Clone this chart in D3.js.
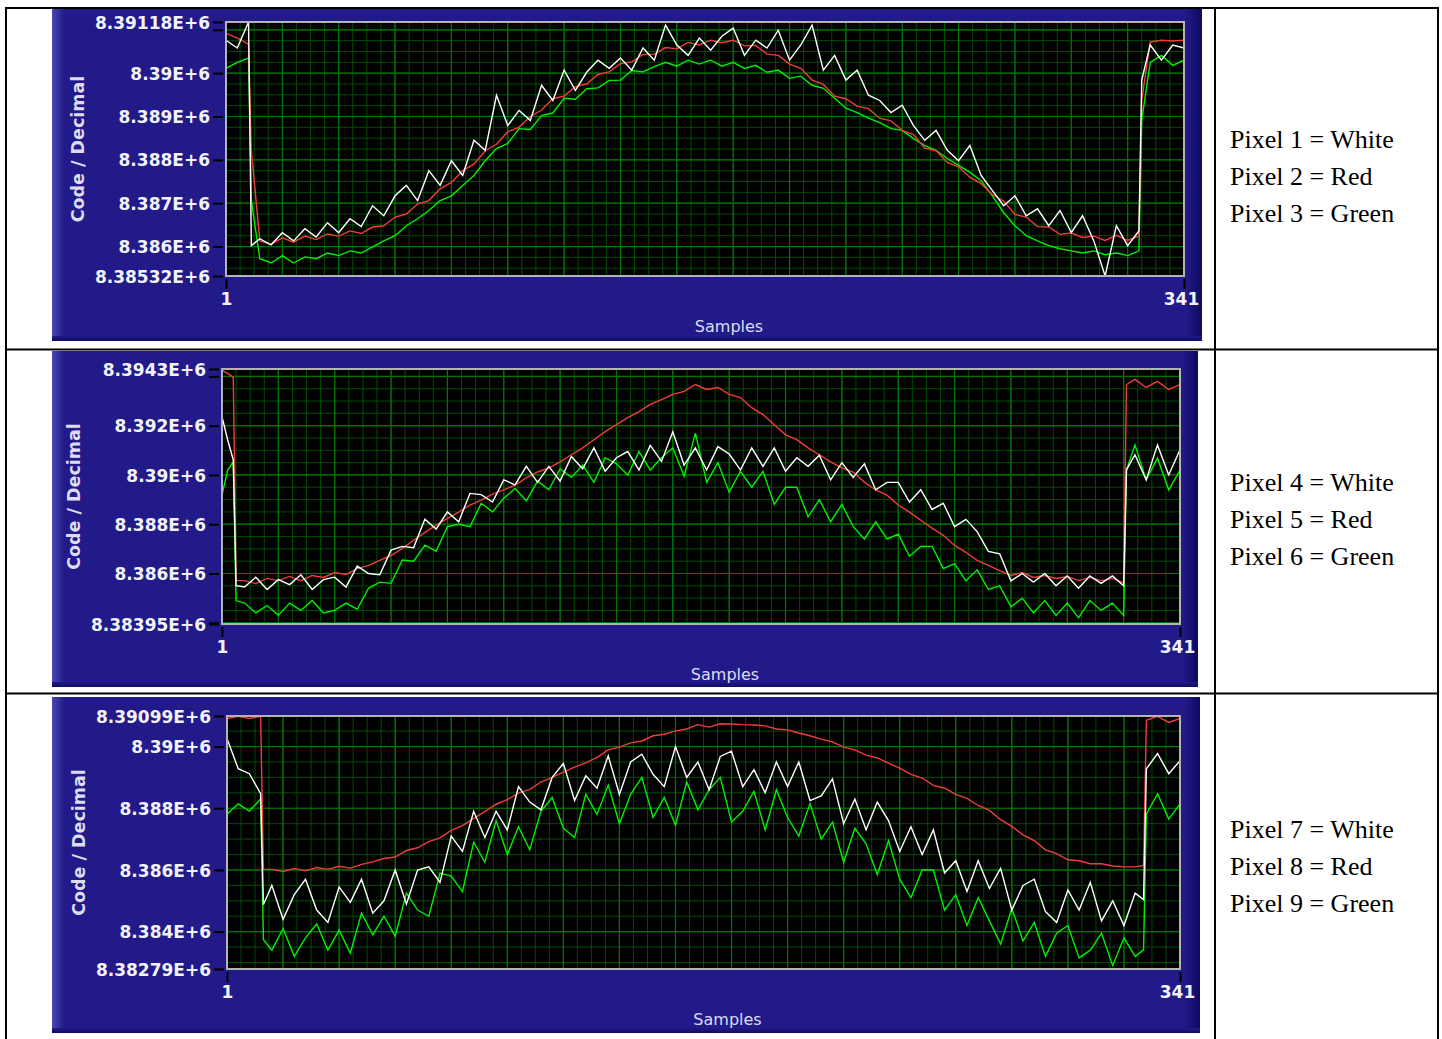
<!DOCTYPE html>
<html>
<head>
<meta charset="utf-8">
<script src="https://cdn.jsdelivr.net/npm/d3@7/dist/d3.min.js"></script>
<style>
  body { margin: 0; background: #fff; }
  svg { display: block; }
</style>
</head>
<body>
<svg id="chart"></svg>
<script>
// values are stored in thousands of codes above 8,380,000
const codeBase = 8380000;
const sampleRange = [1, 341];

// ---- pixels 1-3
const p1Range = [8385320, 8391180];
const p1Samples = [1, 5, 9, 10, ...d3.range(13, 326, 4), 326, 329, 333, 337, 341];
const p1White = [10.76, 10.58, 11.18, 6.02,
    6.18, 6.04, 6.32, 6.13, 6.41, 6.22, 6.55, 6.32, 6.64, 6.46,
    6.94, 6.71, 7.17, 7.41, 7.06, 7.75, 7.41, 7.98, 7.64, 8.45,
    8.22, 9.49, 8.79, 9.14, 8.91, 9.72, 9.37, 10.07, 9.60, 10.02,
    10.30, 10.11, 10.35, 10.07, 10.58, 10.30, 11.11, 10.65, 10.41, 10.81,
    10.53, 10.85, 11.04, 10.41, 10.76, 10.58, 10.99, 10.30, 10.65, 11.11,
    10.07, 10.41, 9.84, 10.07, 9.49, 9.37, 9.09, 9.26, 8.79, 8.45,
    8.68, 8.22, 7.98, 8.33, 7.64, 7.29, 6.94, 7.17, 6.71, 6.87,
    6.48, 6.83, 6.32, 6.71, 6.13, 5.32, 6.48, 6.02, 6.36,
    9.84, 10.65, 10.30, 10.65, 10.58];
const p1Red = [10.92, 10.81, 10.67, 8.22,
    6.13, 6.05, 6.20, 6.10, 6.24, 6.16, 6.29, 6.24, 6.36, 6.30,
    6.45, 6.48, 6.68, 6.75, 6.98, 7.06, 7.33, 7.48, 7.75, 7.90,
    8.21, 8.36, 8.65, 8.75, 9.00, 9.15, 9.41, 9.47, 9.69, 9.75,
    9.97, 10.03, 10.22, 10.26, 10.43, 10.44, 10.59, 10.56, 10.71, 10.65,
    10.76, 10.70, 10.76, 10.63, 10.64, 10.44, 10.41, 10.21, 10.11, 9.84,
    9.74, 9.47, 9.41, 9.24, 9.18, 8.96, 8.90, 8.68, 8.58, 8.27,
    8.21, 7.94, 7.84, 7.60, 7.45, 7.20, 7.05, 6.74, 6.68, 6.46,
    6.45, 6.28, 6.31, 6.21, 6.24, 6.14, 6.26, 6.14, 6.24,
    9.37, 10.72, 10.76, 10.74, 10.76];
const p1Green = [10.11, 10.25, 10.35, 7.06,
    5.72, 5.62, 5.79, 5.62, 5.76, 5.72, 5.85, 5.79, 5.90, 5.85,
    5.99, 6.13, 6.25, 6.48, 6.64, 6.83, 7.06, 7.17, 7.41, 7.64,
    7.98, 8.26, 8.38, 8.72, 8.70, 9.02, 9.08, 9.42, 9.40, 9.64,
    9.66, 9.83, 9.84, 10.06, 10.03, 10.15, 10.25, 10.16, 10.30, 10.21,
    10.30, 10.16, 10.25, 10.11, 10.18, 10.02, 10.07, 9.88, 9.93, 9.72,
    9.65, 9.42, 9.19, 9.09, 8.96, 8.86, 8.72, 8.68, 8.49, 8.33,
    8.22, 8.03, 7.87, 7.71, 7.52, 7.17, 6.78, 6.48, 6.25, 6.13,
    6.02, 5.95, 5.90, 5.85, 5.90, 5.81, 5.85, 5.79, 5.90,
    8.91, 10.25, 10.41, 10.18, 10.30];
const p1Legend = ["Pixel 1 = White", "Pixel 2 = Red", "Pixel 3 = Green"];

// ---- pixels 4-6
const p2Range = [8383950, 8394300];
const p2Samples = [1, 3, 5, 6, ...d3.range(9, 322, 4), 322, 325, 329, 333, 337, 341];
const p2White = [12.37, 11.43, 10.61, 5.51,
    5.45, 5.85, 5.35, 5.75, 5.55, 5.95, 5.35, 5.75, 5.85, 5.45,
    6.30, 6.00, 5.95, 6.95, 7.10, 7.05, 8.20, 7.80, 8.50, 8.10,
    9.25, 9.20, 8.90, 9.80, 9.60, 10.35, 9.70, 10.35, 9.75, 10.75,
    10.25, 11.10, 10.15, 10.70, 10.95, 10.20, 11.20, 10.55, 11.75, 10.40,
    11.10, 10.20, 11.15, 10.85, 10.20, 11.10, 10.35, 11.10, 10.15, 10.70,
    10.35, 10.80, 9.80, 10.50, 9.90, 10.45, 9.40, 9.70, 9.70, 8.90,
    9.40, 8.60, 8.85, 7.90, 8.20, 7.70, 6.90, 6.80, 5.70, 6.00,
    5.65, 6.00, 5.50, 5.90, 5.40, 5.90, 5.60, 5.90, 5.50,
    10.20, 10.82, 9.80, 11.22, 10.00, 11.02];
const p2Red = [14.24, 14.12, 13.96, 5.71,
    5.71, 5.59, 5.80, 5.71, 5.88, 5.71, 5.92, 5.84, 6.04, 5.96,
    6.20, 6.33, 6.53, 6.73, 7.02, 7.35, 7.67, 7.96, 8.24, 8.49,
    8.78, 8.98, 9.22, 9.39, 9.59, 9.88, 10.12, 10.29, 10.53, 10.82,
    11.10, 11.43, 11.76, 12.04, 12.33, 12.57, 12.86, 13.06, 13.27, 13.39,
    13.67, 13.47, 13.55, 13.27, 13.14, 12.73, 12.45, 12.04, 11.63, 11.43,
    11.10, 10.82, 10.53, 10.29, 10.12, 9.71, 9.39, 9.18, 8.78, 8.49,
    8.16, 7.84, 7.55, 7.14, 6.86, 6.53, 6.33, 6.12, 5.92, 6.04,
    5.84, 5.92, 5.80, 5.88, 5.71, 5.84, 5.71, 5.80, 5.63,
    13.67, 13.88, 13.55, 13.80, 13.47, 13.67];
const p2Green = [9.18, 10.20, 10.53, 4.90,
    4.80, 4.40, 4.70, 4.30, 4.80, 4.50, 4.90, 4.40, 4.50, 4.80,
    4.55, 5.40, 5.65, 5.60, 6.55, 6.50, 7.15, 6.90, 7.90, 8.00,
    7.90, 8.85, 8.50, 9.05, 9.45, 8.95, 9.75, 9.40, 10.25, 9.90,
    10.40, 9.70, 10.70, 10.45, 10.00, 10.95, 10.20, 10.70, 11.10, 9.95,
    11.70, 9.70, 10.50, 9.30, 10.15, 9.50, 10.15, 8.80, 9.50, 9.50,
    8.30, 9.00, 8.10, 8.80, 7.90, 7.40, 8.10, 7.40, 7.60, 6.70,
    7.10, 7.10, 6.20, 6.40, 5.70, 6.15, 5.35, 5.50, 4.65, 5.00,
    4.40, 4.90, 4.30, 4.80, 4.20, 4.90, 4.50, 4.80, 4.30,
    10.20, 11.22, 9.80, 10.69, 9.39, 10.20];
const p2Legend = ["Pixel 4 = White", "Pixel 5 = Red", "Pixel 6 = Green"];

// ---- pixels 7-9
const p3Range = [8382790, 8390990];
const p3Samples = [1, 5, 9, 13, 14, ...d3.range(17, 326, 4), 328, 329, 333, 337, 341];
const p3White = [10.26, 9.28, 9.12, 8.47, 4.88,
    5.50, 4.40, 5.20, 5.70, 4.70, 4.30, 5.45, 4.95, 5.70, 4.60,
    5.00, 6.00, 4.90, 6.00, 6.10, 5.60, 7.10, 6.60, 7.90, 7.05,
    7.90, 7.30, 8.70, 8.20, 7.95, 9.00, 9.45, 8.25, 9.05, 8.65,
    9.70, 8.45, 9.50, 9.75, 9.10, 8.70, 10.00, 9.00, 9.50, 8.60,
    9.68, 9.85, 8.70, 9.25, 8.50, 9.50, 8.70, 9.50, 8.25, 8.40,
    8.95, 7.50, 8.30, 7.30, 8.20, 7.60, 6.60, 7.40, 6.50, 7.30,
    5.90, 6.30, 5.30, 6.30, 5.40, 6.05, 4.70, 5.50, 5.70, 4.65,
    4.30, 5.35, 4.70, 5.60, 4.35, 5.00, 4.20, 5.25,
    5.04, 9.28, 9.77, 9.12, 9.54];
const p3Red = [10.91, 10.98, 10.91, 10.98, 6.02,
    6.02, 5.95, 6.05, 5.97, 6.08, 6.02, 6.12, 6.06, 6.18, 6.26,
    6.37, 6.42, 6.63, 6.72, 6.92, 7.04, 7.28, 7.44, 7.67, 7.89,
    8.13, 8.28, 8.49, 8.61, 8.85, 9.00, 9.17, 9.33, 9.47, 9.65,
    9.89, 9.98, 10.12, 10.18, 10.35, 10.40, 10.51, 10.57, 10.71, 10.63,
    10.74, 10.73, 10.71, 10.70, 10.67, 10.57, 10.54, 10.44, 10.35, 10.24,
    10.15, 9.98, 9.89, 9.72, 9.63, 9.46, 9.30, 9.10, 8.98, 8.74,
    8.65, 8.45, 8.32, 8.09, 7.93, 7.63, 7.41, 7.14, 6.95, 6.65,
    6.53, 6.33, 6.30, 6.20, 6.20, 6.13, 6.10, 6.10,
    6.15, 10.85, 10.98, 10.78, 10.91];
const p3Green = [7.81, 8.14, 7.91, 8.30, 3.74,
    3.40, 4.10, 3.20, 3.80, 4.25, 3.40, 4.05, 3.30, 4.60, 3.90,
    4.50, 3.85, 5.25, 4.70, 4.50, 5.90, 5.80, 5.30, 6.90, 6.25,
    7.60, 6.50, 7.40, 6.65, 7.90, 8.35, 7.35, 7.05, 8.45, 7.80,
    8.75, 7.50, 8.45, 9.00, 7.70, 8.35, 7.45, 8.85, 7.95, 8.60,
    9.00, 7.55, 7.90, 8.55, 7.30, 8.60, 7.70, 7.10, 8.15, 7.00,
    7.55, 6.25, 7.35, 6.85, 5.85, 6.95, 5.70, 5.10, 6.00, 6.00,
    4.70, 5.20, 4.20, 5.10, 4.35, 3.60, 4.75, 3.70, 4.30, 3.20,
    3.95, 4.20, 3.15, 3.40, 3.95, 2.90, 3.80, 3.20,
    3.41, 7.81, 8.47, 7.65, 8.14];
const p3Legend = ["Pixel 7 = White", "Pixel 8 = Red", "Pixel 9 = Green"];

const seriesColors = { green: "#00f000", red: "#f23c3c", white: "#ffffff" };

const panels = [
    { samples: p1Samples, range: p1Range, major: 1000, minor: 250,
      series: [["green", p1Green], ["red", p1Red], ["white", p1White]], legend: p1Legend,
      box: { x: 52, y: 9, w: 1150, h: 332 }, plot: { x: 226, y: 22, w: 958, h: 254 }, legendY: 148 },
    { samples: p2Samples, range: p2Range, major: 2000, minor: 500,
      series: [["green", p2Green], ["red", p2Red], ["white", p2White]], legend: p2Legend,
      box: { x: 52, y: 351, w: 1146, h: 336 }, plot: { x: 222, y: 369, w: 958, h: 255 }, legendY: 491 },
    { samples: p3Samples, range: p3Range, major: 2000, minor: 500,
      series: [["green", p3Green], ["red", p3Red], ["white", p3White]], legend: p3Legend,
      box: { x: 52, y: 697, w: 1148, h: 336 }, plot: { x: 227, y: 716, w: 953, h: 253 }, legendY: 838 }
];

const fmtCode = v => parseFloat((v / 1e6).toPrecision(6)) + "E+6";

const svg = d3.select("#chart").attr("width", 1442).attr("height", 1039);
svg.append("rect").attr("width", 1442).attr("height", 1039).attr("fill", "#fff");

const defs = svg.append("defs");
const leftGrad = defs.append("linearGradient").attr("id", "leftBevel");
leftGrad.append("stop").attr("offset", "0%").attr("stop-color", "#4b47b4");
leftGrad.append("stop").attr("offset", "100%").attr("stop-color", "#221a88");
const rightGrad = defs.append("linearGradient").attr("id", "rightBevel");
rightGrad.append("stop").attr("offset", "0%").attr("stop-color", "#221a88");
rightGrad.append("stop").attr("offset", "100%").attr("stop-color", "#0c0a62");
const bottomGrad = defs.append("linearGradient").attr("id", "bottomBevel")
    .attr("x1", 0).attr("x2", 0).attr("y1", 0).attr("y2", 1);
bottomGrad.append("stop").attr("offset", "0%").attr("stop-color", "#221a88");
bottomGrad.append("stop").attr("offset", "100%").attr("stop-color", "#0e0b66");

const drawPanel = (p, i) => {
    const g = svg.append("g").attr("class", "panel");
    const { box, plot } = p;

    g.append("rect").attr("x", box.x).attr("y", box.y).attr("width", box.w).attr("height", box.h)
        .attr("fill", "#221a88");
    g.append("rect").attr("x", box.x).attr("y", box.y).attr("width", 12).attr("height", box.h)
        .attr("fill", "url(#leftBevel)");
    g.append("rect").attr("x", box.x + box.w - 16).attr("y", box.y).attr("width", 16).attr("height", box.h)
        .attr("fill", "url(#rightBevel)");
    g.append("rect").attr("x", box.x).attr("y", box.y + box.h - 5).attr("width", box.w).attr("height", 5)
        .attr("fill", "url(#bottomBevel)");

    const x = d3.scaleLinear().domain(sampleRange).range([plot.x, plot.x + plot.w]);
    const y = d3.scaleLinear().domain(p.range).range([plot.y + plot.h, plot.y]);

    g.append("rect").attr("x", plot.x).attr("y", plot.y).attr("width", plot.w).attr("height", plot.h)
        .attr("fill", "#000");

    const [lo, hi] = p.range;
    const minorY = d3.range(Math.ceil(lo / p.minor) * p.minor, hi, p.minor);
    const majorY = d3.range(Math.ceil(lo / p.major) * p.major, hi, p.major);
    const minorX = d3.range(sampleRange[0], sampleRange[1], 5);
    const majorX = d3.range(sampleRange[0], sampleRange[1], 20);

    const grid = g.append("g");
    grid.selectAll(".minor-y").data(minorY).join("line")
        .attr("x1", plot.x).attr("x2", plot.x + plot.w)
        .attr("y1", d => y(d)).attr("y2", d => y(d))
        .attr("stroke", "#004c00").attr("stroke-width", 1);
    grid.selectAll(".minor-x").data(minorX).join("line")
        .attr("y1", plot.y).attr("y2", plot.y + plot.h)
        .attr("x1", d => x(d)).attr("x2", d => x(d))
        .attr("stroke", "#004c00").attr("stroke-width", 1);
    grid.selectAll(".major-y").data(majorY).join("line")
        .attr("x1", plot.x).attr("x2", plot.x + plot.w)
        .attr("y1", d => y(d)).attr("y2", d => y(d))
        .attr("stroke", "#007800").attr("stroke-width", 1.2);
    grid.selectAll(".major-x").data(majorX).join("line")
        .attr("y1", plot.y).attr("y2", plot.y + plot.h)
        .attr("x1", d => x(d)).attr("x2", d => x(d))
        .attr("stroke", "#007800").attr("stroke-width", 1.2);

    const clipId = `clip${i}`;
    defs.append("clipPath").attr("id", clipId).append("rect")
        .attr("x", plot.x).attr("y", plot.y).attr("width", plot.w).attr("height", plot.h);

    const line = d3.line()
        .x((d, j) => x(p.samples[j]))
        .y(d => y(codeBase + d * 1000));

    g.append("g").attr("clip-path", `url(#${clipId})`)
        .selectAll("path").data(p.series).join("path")
        .attr("d", s => line(s[1]))
        .attr("fill", "none")
        .attr("stroke", s => seriesColors[s[0]])
        .attr("stroke-width", 1.4)
        .attr("stroke-linejoin", "miter");

    g.append("rect").attr("x", plot.x).attr("y", plot.y).attr("width", plot.w).attr("height", plot.h)
        .attr("fill", "none").attr("stroke", "#b4b4b4").attr("stroke-width", 2);

    // y axis: end values and major ticks; labels too close to an end are left blank
    const yTicks = [lo, ...majorY, hi];
    const yAxis = d3.axisLeft(y).tickValues(yTicks).tickSize(10).tickPadding(3)
        .tickFormat(v => (v === lo || v === hi || (Math.abs(y(v) - y(lo)) > 15 && Math.abs(y(v) - y(hi)) > 15)) ? fmtCode(v) : "");
    const ya = g.append("g").attr("transform", `translate(${plot.x - 3},0)`).call(yAxis);
    ya.select(".domain").remove();
    ya.selectAll("line").attr("stroke", "#000").attr("stroke-width", 2);
    ya.selectAll("text").attr("fill", "#f2f2fa").attr("font-family", "DejaVu Sans")
        .attr("font-weight", "bold").attr("font-size", 17).attr("dy", "0.36em");

    const xAxis = d3.axisBottom(x).tickValues(sampleRange).tickSize(10).tickPadding(4).tickFormat(d3.format("d"));
    const xa = g.append("g").attr("transform", `translate(0,${plot.y + plot.h + 3})`).call(xAxis);
    xa.select(".domain").remove();
    xa.selectAll("line").attr("stroke", "#000").attr("stroke-width", 2);
    xa.selectAll("text").attr("fill", "#f2f2fa").attr("font-family", "DejaVu Sans")
        .attr("font-weight", "bold").attr("font-size", 17);
    xa.selectAll(".tick").filter(d => d === sampleRange[1]).select("text").attr("dx", -3);

    g.append("text")
        .attr("transform", `translate(${plot.x - 148},${plot.y + plot.h / 2}) rotate(-90)`)
        .attr("text-anchor", "middle").attr("dy", "0.36em")
        .attr("fill", "#dcdcf2").attr("font-family", "DejaVu Sans").attr("font-weight", "bold")
        .attr("font-size", 17.5)
        .text("Code / Decimal");

    g.append("text")
        .attr("x", plot.x + plot.w / 2 + 24).attr("y", plot.y + plot.h + 56)
        .attr("text-anchor", "middle")
        .attr("fill", "#dcdcf2").attr("font-family", "DejaVu Sans").attr("font-size", 16)
        .text("Samples");

    g.append("g").selectAll("text").data(p.legend).join("text")
        .attr("x", 1230).attr("y", (d, j) => p.legendY + j * 37)
        .attr("fill", "#000").attr("font-family", "Liberation Serif").attr("font-size", 26)
        .text(d => d);
};

panels.forEach(drawPanel);

// table rules
const rules = [
    [6, 8, 1439, 8], [6, 349.5, 1439, 349.5], [6, 693.5, 1439, 693.5],
    [6, 7, 6, 1039], [1215, 7, 1215, 1039], [1438, 7, 1438, 1039]
];
svg.append("g").selectAll("line").data(rules).join("line")
    .attr("x1", d => d[0]).attr("y1", d => d[1]).attr("x2", d => d[2]).attr("y2", d => d[3])
    .attr("stroke", "#000").attr("stroke-width", 2);
</script>
</body>
</html>
